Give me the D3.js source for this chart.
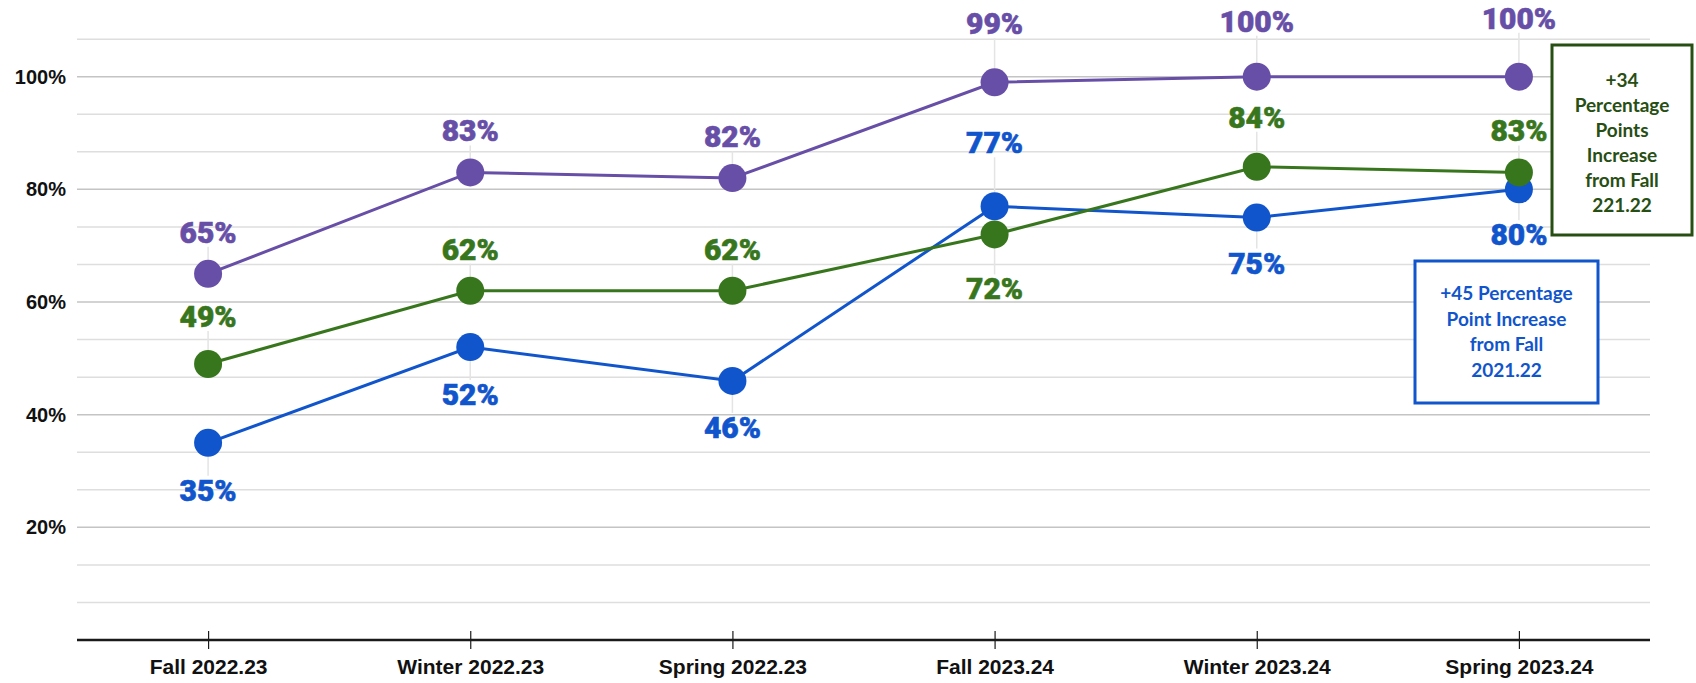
<!DOCTYPE html>
<html>
<head>
<meta charset="utf-8">
<script src="https://cdn.jsdelivr.net/npm/d3@7"></script>
<style>
  body { margin: 0; background: #fff; }
  svg { display: block; }
</style>
</head>
<body>
<div id="chart"></div>
<script>
// Data
const categories = ['Fall 2022.23', 'Winter 2022.23', 'Spring 2022.23', 'Fall 2023.24', 'Winter 2023.24', 'Spring 2023.24'];
const purpleValues = [65, 83, 82, 99, 100, 100];
const greenValues = [49, 62, 62, 72, 84, 83];
const blueValues = [35, 52, 46, 77, 75, 80];
const yTickValues = [20, 40, 60, 80, 100];

// label baseline offset from the point (px), negative = above
const purpleLabelDy = [-31, -31, -31, -48, -45, -48];
const greenLabelDy = [-37, -31, -31, 65, -39, -31];
const blueLabelDy = [58, 58, 57, -53, 56, 56];

const greenNote = ['+34', 'Percentage', 'Points', 'Increase', 'from Fall', '221.22'];
const blueNote = ['+45 Percentage', 'Point Increase', 'from Fall', '2021.22'];

const width = 1696, height = 683;
const plot = { left: 77, right: 1650, top: 76.7, bottom: 640 };

const svg = d3.select('#chart').append('svg')
    .attr('width', width)
    .attr('height', height);

const x = d3.scalePoint()
    .domain(categories)
    .range([plot.left, plot.right])
    .padding(0.5);

const y = d3.scaleLinear()
    .domain([0, 100])
    .range([plot.bottom, plot.top]);

// gridlines: major every 20, minor every 20/3
const gridValues = d3.range(1, 17).map(i => i * 20 / 3);
svg.append('g')
    .selectAll('line')
    .data(gridValues)
    .enter()
    .append('line')
    .attr('x1', plot.left)
    .attr('x2', plot.right)
    .attr('y1', d => y(d))
    .attr('y2', d => y(d))
    .attr('stroke', (d, i) => (i + 1) % 3 === 0 ? '#c4c4c4' : '#dedede')
    .attr('stroke-width', 1.5);

// y labels
svg.append('g')
    .selectAll('text')
    .data(yTickValues)
    .enter()
    .append('text')
    .attr('x', 66)
    .attr('y', d => y(d) + 7)
    .attr('text-anchor', 'end')
    .style('font-family', '"Liberation Sans", Arial, sans-serif')
    .style('font-weight', 'bold')
    .style('font-size', '20px')
    .attr('fill', '#111')
    .text(d => d + '%');

// x axis
const xAxis = svg.append('g')
    .attr('transform', `translate(0,${plot.bottom})`)
    .call(d3.axisBottom(x).tickSize(9).tickSizeOuter(0));
xAxis.select('.domain')
    .attr('d', `M${plot.left},0H${plot.right}`)
    .attr('stroke', '#1a1a1a')
    .attr('stroke-width', 2.5);
xAxis.selectAll('.tick line')
    .attr('y1', -9)
    .attr('y2', 9)
    .attr('stroke', '#1a1a1a')
    .attr('stroke-width', 1.2);
xAxis.selectAll('.tick text')
    .attr('y', 34)
    .attr('dy', null)
    .style('font-family', '"Liberation Sans", Arial, sans-serif')
    .style('font-weight', 'bold')
    .style('font-size', '21px')
    .attr('fill', '#111');

// series
const series = [
    { values: blueValues, labelDy: blueLabelDy, color: '#1155cc' },
    { values: greenValues, labelDy: greenLabelDy, color: '#38761d' },
    { values: purpleValues, labelDy: purpleLabelDy, color: '#674ea7' }
];

const line = d3.line()
    .x((d, i) => x(categories[i]))
    .y(d => y(d));

const r = 14;

// leader lines behind everything
series.forEach(s => {
    svg.append('g')
        .selectAll('line')
        .data(s.values)
        .enter()
        .append('line')
        .attr('x1', (d, i) => x(categories[i]))
        .attr('x2', (d, i) => x(categories[i]))
        .attr('y1', (d, i) => y(d) + (s.labelDy[i] < 0 ? -r : r))
        .attr('y2', (d, i) => y(d) + (s.labelDy[i] < 0 ? s.labelDy[i] + 4 : s.labelDy[i] - 25))
        .attr('stroke', '#e4e4e4')
        .attr('stroke-width', 1.5);
});

series.forEach(s => {
    const g = svg.append('g');
    g.append('path')
        .datum(s.values)
        .attr('fill', 'none')
        .attr('stroke', s.color)
        .attr('stroke-width', 3)
        .attr('d', line);
    g.selectAll('circle')
        .data(s.values)
        .enter()
        .append('circle')
        .attr('cx', (d, i) => x(categories[i]))
        .attr('cy', d => y(d))
        .attr('r', r)
        .attr('fill', s.color);
});

// data labels
series.forEach(s => {
    svg.append('g')
        .selectAll('text')
        .data(s.values)
        .enter()
        .append('text')
        .attr('x', (d, i) => x(categories[i]))
        .attr('y', (d, i) => y(d) + s.labelDy[i])
        .attr('text-anchor', 'middle')
        .style('font-family', 'Roboto, sans-serif')
        .style('font-weight', '900')
        .style('font-size', '30px')
        .attr('fill', s.color)
        .attr('stroke', s.color)
        .attr('stroke-width', 0.6)
        .text(d => d + '%');
});

// annotation boxes
function note(lines, box, color, lineH) {
    const g = svg.append('g');
    g.append('rect')
        .attr('x', box.x)
        .attr('y', box.y)
        .attr('width', box.w)
        .attr('height', box.h)
        .attr('fill', '#fff')
        .attr('stroke', color)
        .attr('stroke-width', 3);
    g.selectAll('text')
        .data(lines)
        .enter()
        .append('text')
        .attr('x', box.x + box.w / 2)
        .attr('y', (d, i) => box.firstY + i * lineH + 6.5)
        .attr('text-anchor', 'middle')
        .style('font-family', 'Lato, sans-serif')
        .style('font-weight', 'bold')
        .style('font-size', '19px')
        .attr('fill', color)
        .text(d => d);
}

note(greenNote, { x: 1552, y: 45, w: 140, h: 190, firstY: 80 }, '#274e13', 25);
note(blueNote, { x: 1415, y: 261, w: 183, h: 142, firstY: 293.5 }, '#1155cc', 25.6);
</script>
</body>
</html>
